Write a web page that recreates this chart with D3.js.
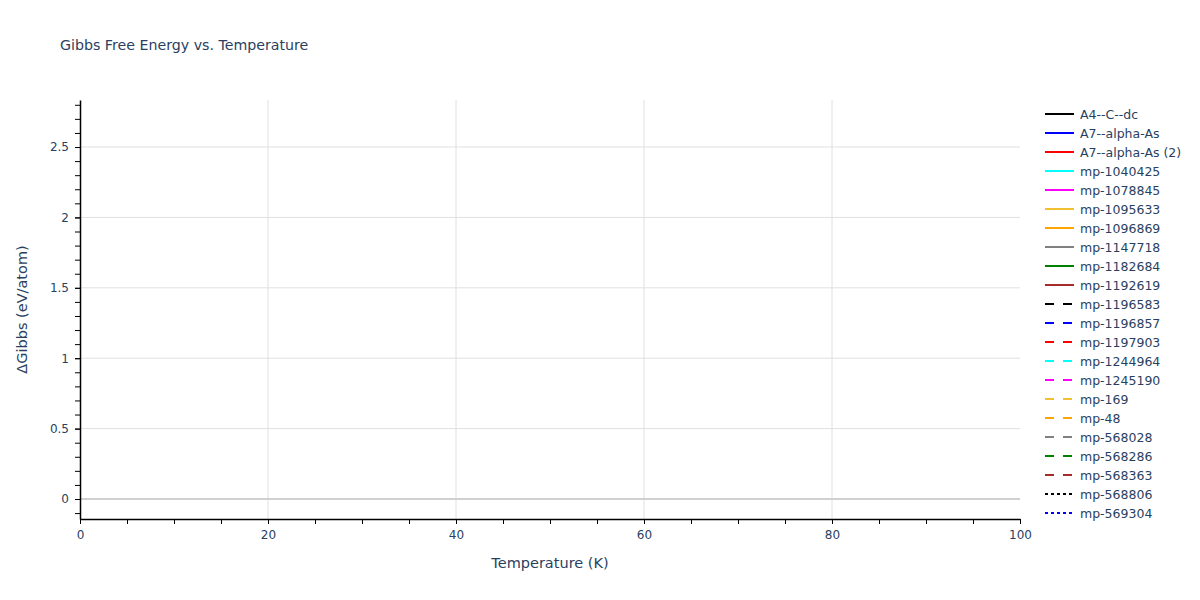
<!DOCTYPE html>
<html lang="en">

<head>
  <meta charset="UTF-8">
  <title>Gibbs Free Energy vs. Temperature</title>
  <script src="https://d3js.org/d3.v7.min.js"></script>
  <style>
    body {
      margin: 0;
      background: #fff;
      font-family: "DejaVu Sans", sans-serif;
    }
  </style>
</head>

<body>
  <div id="chart"></div>
  <script>
    // legend entries, in order
    const names = ["A4--C--dc", "A7--alpha-As", "A7--alpha-As (2)", "mp-1040425", "mp-1078845",
      "mp-1095633", "mp-1096869", "mp-1147718", "mp-1182684", "mp-1192619",
      "mp-1196583", "mp-1196857", "mp-1197903", "mp-1244964", "mp-1245190",
      "mp-169", "mp-48", "mp-568028", "mp-568286", "mp-568363",
      "mp-568806", "mp-569304"];
    const colors = ["#000000", "#0000ff", "#ff0000", "#00ffff", "#ff00ff",
      "#f0c030", "#ffa500", "#808080", "#008000", "#a52a2a"];
    const dashes = ["solid", "dash", "dot"];

    // no points fall in the visible window, so every series is empty
    const temperatures = [];
    const seriesValues = names.map(() => []);

    const xTicks = [0, 20, 40, 60, 80, 100];
    const yTicks = [0, 0.5, 1, 1.5, 2, 2.5];
    const xDomain = [0, 100];
    const yDomain = [-0.142, 2.834];

    const W = 1200, H = 600;
    const margin = {top: 100, right: 180, bottom: 81, left: 80};
    const width = W - margin.left - margin.right,
      height = H - margin.top - margin.bottom;
    const textColor = "#2a3f5f";

    const root = d3.select("#chart").append("svg")
      .attr("width", W)
      .attr("height", H);

    root.append("text")
      .attr("x", 60)
      .attr("y", 50)
      .attr("fill", textColor)
      .style("font-size", "14.2px")
      .text("Gibbs Free Energy vs. Temperature");

    const svg = root.append("g")
      .attr("transform", "translate(" + margin.left + "," + margin.top + ")");

    const x = d3.scaleLinear().domain(xDomain).range([0, width]);
    const y = d3.scaleLinear().domain(yDomain).range([height, 0]);

    // grid
    svg.append("g").selectAll("line")
      .data(xTicks.filter(d => d > 0 && d < 100))
      .enter().append("line")
      .attr("x1", d => x(d)).attr("x2", d => x(d))
      .attr("y1", 0).attr("y2", height)
      .attr("stroke", "#e0e0e0");

    svg.append("g").selectAll("line")
      .data(yTicks.filter(d => d !== 0))
      .enter().append("line")
      .attr("x1", 0).attr("x2", width)
      .attr("y1", d => y(d)).attr("y2", d => y(d))
      .attr("stroke", "#e0e0e0");

    svg.append("line")
      .attr("x1", 0).attr("x2", width)
      .attr("y1", y(0)).attr("y2", y(0))
      .attr("stroke", "#d0d0d0")
      .attr("stroke-width", 2);

    // series lines
    const line = d3.line()
      .x((d, i) => x(temperatures[i]))
      .y(d => y(d));
    const dashArr = {solid: null, dash: "9,9", dot: "3,3"};

    svg.append("g").selectAll("path")
      .data(seriesValues)
      .enter().append("path")
      .attr("fill", "none")
      .attr("stroke", (d, i) => colors[i % 10])
      .attr("stroke-width", 2)
      .attr("stroke-dasharray", (d, i) => dashArr[dashes[Math.floor(i / 10)]])
      .attr("d", d => d.length ? line(d) : null);

    function styleAxis(g) {
      g.selectAll("line").attr("stroke", "#000");
      g.select(".domain").attr("stroke", "#000").attr("stroke-width", 1.5);
      g.selectAll("text")
        .attr("fill", textColor)
        .style("font-family", "'DejaVu Sans', sans-serif")
        .style("font-size", "12px");
    }

    // minor ticks
    svg.append("g")
      .attr("transform", "translate(0," + height + ")")
      .call(d3.axisBottom(x).tickValues(d3.range(0, 101, 5)).tickSize(5).tickFormat(""))
      .call(styleAxis)
      .call(g => g.select(".domain").remove());

    svg.append("g")
      .call(d3.axisLeft(y).tickValues(d3.range(-1, 29).map(d => d / 10)).tickSize(5).tickFormat(""))
      .call(styleAxis)
      .call(g => g.select(".domain").remove());

    // major axes
    svg.append("g")
      .attr("transform", "translate(0," + height + ")")
      .call(d3.axisBottom(x).tickValues(xTicks).tickSize(5).tickPadding(6).tickSizeOuter(0).tickFormat(d3.format("d")))
      .call(styleAxis);

    svg.append("g")
      .call(d3.axisLeft(y).tickValues(yTicks).tickSize(5).tickPadding(6).tickSizeOuter(0).tickFormat(d3.format("")))
      .call(styleAxis);

    // axis titles
    svg.append("text")
      .attr("text-anchor", "middle")
      .attr("x", width / 2)
      .attr("y", height + 49)
      .attr("fill", textColor)
      .style("font-size", "14.5px")
      .text("Temperature (K)");

    svg.append("text")
      .attr("text-anchor", "middle")
      .attr("transform", "rotate(-90)")
      .attr("x", -(height / 2))
      .attr("y", -53)
      .attr("fill", textColor)
      .style("font-size", "14.5px")
      .text("ΔGibbs (eV/atom)");

    // legend
    const legend = root.append("g")
      .attr("transform", "translate(1045,114)");

    const item = legend.selectAll("g")
      .data(names)
      .enter().append("g")
      .attr("transform", (d, i) => "translate(0," + (i * 19) + ")");

    item.append("line")
      .attr("x1", 0).attr("x2", 29)
      .attr("stroke", (d, i) => colors[i % 10])
      .attr("stroke-width", 2)
      .attr("stroke-dasharray", (d, i) => dashArr[dashes[Math.floor(i / 10)]]);

    item.append("text")
      .attr("x", 35)
      .attr("y", 4.5)
      .attr("fill", textColor)
      .style("font-size", "12.5px")
      .text(d => d);
  </script>
</body>

</html>
